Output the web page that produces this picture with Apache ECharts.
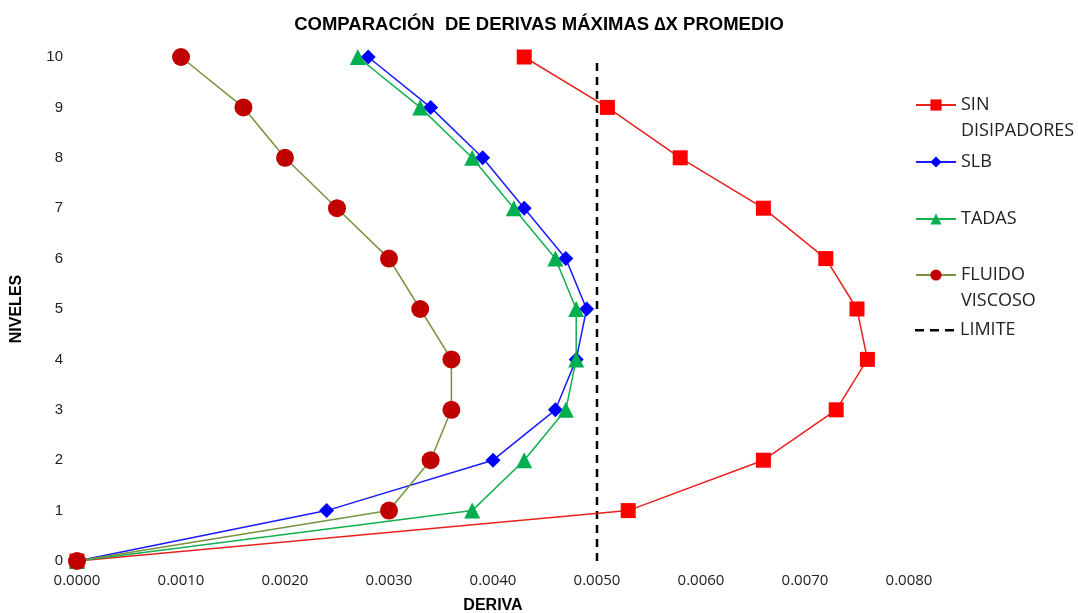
<!DOCTYPE html>
<html>
<head>
<meta charset="utf-8">
<script src="https://cdn.jsdelivr.net/npm/echarts@6/dist/echarts.min.js"></script>
<style>html,body{margin:0;padding:0;background:#fff}#c{width:1078px;height:613px}</style>
</head>
<body>
<div id="c"></div>
<script>
var niveles = [0, 1, 2, 3, 4, 5, 6, 7, 8, 9, 10];
var sinDisipadores = [0, 0.0053, 0.0066, 0.0073, 0.0076, 0.0075, 0.0072, 0.0066, 0.0058, 0.0051, 0.0043];
var slb = [0, 0.0024, 0.0040, 0.0046, 0.0048, 0.0049, 0.0047, 0.0043, 0.0039, 0.0034, 0.0028];
var tadas = [0, 0.0038, 0.0043, 0.0047, 0.0048, 0.0048, 0.0046, 0.0042, 0.0038, 0.0033, 0.0027];
var fluidoViscoso = [0, 0.0030, 0.0034, 0.0036, 0.0036, 0.0033, 0.0030, 0.0025, 0.0020, 0.0016, 0.0010];
var limite = [[0.005, 0], [0.005, 10]];
var xTicks = { min: 0, max: 0.008, interval: 0.001 };
var yTicks = { min: 0, max: 10, interval: 1 };

function pairs(xs) { return xs.map(function (x, i) { return [x, niveles[i]]; }); }

var chart = echarts.init(document.getElementById('c'));
var dashIcon = 'path://M0,0h0.01v0.01h-0.01z M0,6h9v2.5h-9z M15,6h9v2.5h-9z M30,6h9v2.5h-9z M39.99,13.99h0.01v0.01h-0.01z';
function mkLegend(name, top, label, icon) {
  var item = { name: name };
  if (icon) item.icon = icon;
  return {
    data: [item], left: 910, top: top, orient: 'vertical',
    itemWidth: 40, itemHeight: 14, itemGap: 0, selectedMode: false,
    textStyle: { fontFamily: 'Open Sans', fontSize: 18, color: '#222', lineHeight: 26 },
    formatter: function () { return label; }
  };
}
chart.setOption({
  animation: false,
  title: {
    text: 'COMPARACIÓN  DE DERIVAS MÁXIMAS ∆X PROMEDIO',
    left: 534, top: 10, textAlign: 'center',
    textStyle: { fontFamily: 'Liberation Sans', fontSize: 18.5, fontWeight: 'bold', color: '#000' }
  },
  legend: [
    mkLegend('SIN DISIPADORES', 61, '\u00a0\nSIN\nDISIPADORES'),
    mkLegend('SLB', 144, 'SLB'),
    mkLegend('TADAS', 201, 'TADAS'),
    mkLegend('FLUIDO VISCOSO', 231, '\u00a0\nFLUIDO\nVISCOSO'),
    mkLegend('LIMITE', 312, 'LIMITE', dashIcon)
  ],
  grid: { left: 77, right: 169, top: 57, bottom: 52, containLabel: false, outerBoundsMode: 'none' },
  xAxis: {
    type: 'value', min: xTicks.min, max: xTicks.max, interval: xTicks.interval,
    name: 'DERIVA', nameLocation: 'middle', nameGap: 37,
    nameTextStyle: { fontFamily: 'Liberation Sans', fontSize: 16, fontWeight: 'bold', color: '#000' },
    axisLine: { show: false }, axisTick: { show: false }, splitLine: { show: false },
    axisLabel: { fontFamily: 'Open Sans', fontSize: 15, color: '#222', margin: 12,
      formatter: function (v) { return v.toFixed(4); } }
  },
  yAxis: {
    type: 'value', min: yTicks.min, max: yTicks.max, interval: yTicks.interval,
    name: 'NIVELES', nameLocation: 'middle', nameGap: 52, nameRotate: 90,
    nameTextStyle: { fontFamily: 'Liberation Sans', fontSize: 16, fontWeight: 'bold', color: '#000' },
    axisLine: { show: false }, axisTick: { show: false }, splitLine: { show: false },
    axisLabel: { fontFamily: 'Liberation Sans', fontSize: 15, color: '#222', margin: 14 }
  },
  series: [
    { name: 'LIMITE', type: 'line', data: limite, symbol: 'none', z: 1,
      lineStyle: { color: '#000', width: 2.5, type: [8, 6] }, itemStyle: { color: '#000' } },
    { name: 'SIN DISIPADORES', type: 'line', data: pairs(sinDisipadores), symbol: 'rect', symbolSize: 15, z: 2,
      lineStyle: { color: '#e8211f', width: 1.5 }, itemStyle: { color: '#ff0000' } },
    { name: 'SLB', type: 'line', data: pairs(slb), symbol: 'diamond', symbolSize: 15, z: 3,
      lineStyle: { color: '#1a1aff', width: 1.5 }, itemStyle: { color: '#0000ff' } },
    { name: 'TADAS', type: 'line', data: pairs(tadas), symbol: 'triangle', symbolSize: 16, z: 4,
      lineStyle: { color: '#12b050', width: 1.5 }, itemStyle: { color: '#00b050' } },
    { name: 'FLUIDO VISCOSO', type: 'line', data: pairs(fluidoViscoso), symbol: 'circle', symbolSize: 18, z: 5,
      lineStyle: { color: '#76923c', width: 1.5 }, itemStyle: { color: '#c00000' } }
  ]
});
</script>
</body>
</html>
